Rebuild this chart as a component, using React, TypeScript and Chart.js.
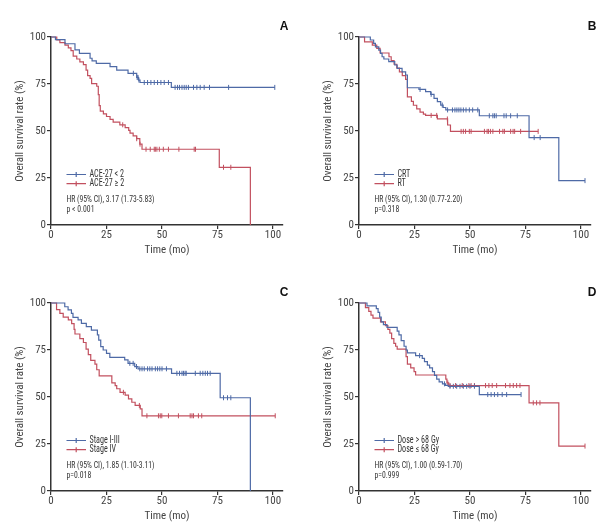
import React, { useEffect, useRef } from "react";
import { Chart, registerables } from "chart.js";

Chart.register(...registerables);

const FONT = '"Roboto Condensed", "Liberation Sans Narrow", "DejaVu Sans Condensed", sans-serif';
const BLUE = "#4e6aa6";
const RED = "#c2505f";
const AXIS = "#333333";
const TEXT = "#444444";

const xTicks = [0, 25, 50, 75, 100];
const yTicks = [0, 25, 50, 75, 100];
const X_MAX = 104.5;

// Panel A
const aBlueT = [0, 2, 6.3, 10.8, 12.8, 17.6, 18.5, 20.4, 26.6, 29.6, 34.7, 38.6, 39.4, 40.1, 54.2];
const aBlueS = [100, 98.6, 96.4, 93.1, 91.3, 88.7, 87.3, 86.0, 84.2, 82.4, 80.7, 78.5, 77.1, 75.8, 73.2];
const aBlueEnd = 100.8;
const aBlueCens = [37.1, 38.8, 39.2, 39.6, 42, 43.5, 45, 46.5, 48, 49.5, 51, 52.9, 55.9, 57, 57.9, 59, 60, 60.9, 61.9, 64.2, 65.7, 67.2, 69, 71.4, 80, 100.8];
const aRedT = [0, 2.6, 4, 6.3, 7.8, 9, 10, 11.6, 13, 14.6, 15.8, 16.5, 17.6, 18.3, 20.6, 21.3, 21.7, 22.2, 23.6, 25, 26.6, 28, 31, 33.4, 35, 35.6, 37, 38.6, 40, 41, 75.8, 89.8];
const aRedS = [100, 98.5, 97, 95.7, 94.2, 92.7, 89.8, 88.3, 86.8, 85.3, 82.4, 79.5, 78, 75.2, 73.8, 69.4, 63.5, 60.6, 59.1, 57.7, 56.2, 54.7, 53.3, 51.8, 50.3, 48.9, 47.4, 45.9, 43, 40.3, 30.7, 0];
const aRedEnd = 89.8;
const aRedCens = [32.3, 38.6, 40.1, 42.8, 44.7, 46.5, 47, 47.7, 48.8, 50.6, 52.9, 57.6, 64.5, 65.1, 77.7, 81];

// Panel B
const bBlueT = [0, 5.1, 6.6, 7.4, 8.9, 9.7, 10.4, 11.2, 13.4, 16.1, 17.2, 19.4, 21, 21.8, 27, 30, 32.3, 33.8, 35.3, 36.8, 37.9, 39.1, 54.2, 76.6, 90];
const bBlueS = [100, 98.4, 96.6, 94.8, 93, 91.3, 89.5, 88.3, 86.9, 85.1, 83.3, 81.5, 79.8, 73.0, 72.1, 70.9, 69.5, 67.4, 65.6, 63.8, 62.5, 61.2, 58.1, 46.5, 23.6];
const bBlueEnd = 101.8;
const bBlueCens = [27.5, 32.5, 37.5, 39.9, 42.1, 43.2, 44.1, 45, 45.9, 47, 48.2, 49.7, 51.2, 53.5, 58.7, 60.3, 61, 61.8, 65.3, 66.3, 68.3, 71.3, 78.9, 81.6, 101.8];
const bRedT = [0, 2.5, 6, 8, 9.5, 13.5, 14.5, 15.8, 17, 18.2, 19.5, 21, 21.8, 23.6, 24.5, 26, 27.5, 29, 30, 35.3, 39.9, 41.2];
const bRedS = [100, 97.4, 95.7, 94, 91.5, 89.5, 87.5, 85.5, 83.5, 81.5, 79.5, 77.5, 68.1, 65.8, 63.7, 61.8, 60, 59, 58.3, 56.4, 53.2, 49.8];
const bRedEnd = 80.7;
const bRedCens = [32.5, 35, 39.8, 46, 47, 48, 49.7, 50.5, 56.5, 57.7, 58.3, 59.2, 60.3, 63.3, 64.8, 65.5, 68.3, 69.4, 70.1, 72.8, 80.7];

// Panel C
const cBlueT = [0, 6.2, 7.7, 9.2, 9.9, 12.2, 13.7, 15.9, 18.2, 20.9, 21.5, 22.4, 23.5, 25, 26.5, 33.2, 34.7, 37.7, 39.2, 54.3, 76.2, 89.8];
const cBlueS = [100, 98, 96.3, 94.5, 92.4, 91, 89.2, 87.4, 85.6, 83, 80.3, 76.8, 75, 73.2, 71.1, 69.7, 67.9, 66.2, 65, 62.6, 49.6, 0];
const cBlueEnd = 89.8;
const cBlueCens = [35.5, 37, 38.5, 40, 41, 42, 43.5, 44.5, 45.5, 47, 48, 49, 50, 52, 56.7, 57.9, 59, 59.7, 60.4, 60.9, 65, 67.2, 68.4, 69.5, 70.5, 71.7, 77.7, 79.5, 81];
const cRedT = [0, 2.5, 4, 5.5, 7.8, 9.3, 10.4, 10.8, 13, 14.6, 15.8, 16.8, 17.9, 19.8, 20.6, 21.7, 27.4, 28.9, 29.6, 31.1, 33.4, 34.9, 36.4, 37.9, 40.2, 41];
const cRedS = [100, 96.5, 94.5, 92.5, 91, 89, 86, 83.5, 81, 79, 75.5, 72.5, 69.5, 67.5, 64.5, 61.2, 57.5, 56, 54.4, 52.5, 51, 49, 47.2, 45.5, 43.7, 40];
const cRedEnd = 101;
const cRedCens = [32.6, 39.8, 43.2, 48.4, 49.2, 49.9, 52.9, 57.4, 62.7, 63.5, 64.2, 66.4, 67.9, 101];

// Panel D
const dBlueT = [0, 3.6, 7.8, 8.6, 9.3, 10, 11, 12.6, 17.2, 18, 19, 20.3, 21.2, 21.8, 25.5, 28.5, 29.5, 30.8, 31.8, 33.1, 34, 35, 36.1, 37.6, 39, 40.2, 54.2];
const dBlueS = [100, 98.5, 97, 95, 92.5, 90, 88.5, 87, 85, 83, 80, 77, 75, 73.5, 72, 70.5, 68.8, 67, 65.5, 63.5, 61.5, 59.5, 58, 57, 56.2, 55.7, 51.3];
const dBlueEnd = 73;
const dBlueCens = [27.3, 38.5, 41, 42.5, 44, 45.5, 47, 48.5, 50, 52, 58, 59.5, 61, 62.5, 64.5, 66.5, 73];
const dRedT = [0, 2.9, 4.4, 5.4, 6.3, 9.7, 11.9, 13, 13.9, 14.7, 15.7, 16.5, 17.2, 21.2, 21.8, 23.3, 24.8, 25.5, 39.1, 39.6, 40.4, 76.6, 90];
const dRedS = [100, 97.5, 95.5, 93.5, 92, 90, 88, 86, 84, 81, 78.5, 77, 75.5, 71.5, 67.5, 65.5, 63.5, 61.7, 59.5, 57.5, 56.1, 46.9, 23.9];
const dRedEnd = 101.8;
const dRedCens = [40, 41, 43.5, 46.5, 49.5, 50.5, 52, 57, 58.5, 60, 62, 66, 68, 69.5, 71, 72.5, 78.5, 80, 81.5, 101.8];

const panelLetters = ["A", "B", "C", "D"];
const blueLabels = ["ACE-27 < 2", "CRT", "Stage I-III", "Dose > 68 Gy"];
const redLabels = ["ACE-27 \u2265 2", "RT", "Stage IV", "Dose \u2264 68 Gy"];
const hrTexts = [
  "HR (95% CI), 3.17 (1.73-5.83)",
  "HR (95% CI), 1.30 (0.77-2.20)",
  "HR (95% CI), 1.85 (1.10-3.11)",
  "HR (95% CI), 1.00 (0.59-1.70)",
];
const pTexts = ["p < 0.001", "p=0.318", "p=0.018", "p=0.999"];

type Curve = { t: number[]; s: number[]; end: number; cens: number[] };
const blueCurves: Curve[] = [
  { t: aBlueT, s: aBlueS, end: aBlueEnd, cens: aBlueCens },
  { t: bBlueT, s: bBlueS, end: bBlueEnd, cens: bBlueCens },
  { t: cBlueT, s: cBlueS, end: cBlueEnd, cens: cBlueCens },
  { t: dBlueT, s: dBlueS, end: dBlueEnd, cens: dBlueCens },
];
const redCurves: Curve[] = [
  { t: aRedT, s: aRedS, end: aRedEnd, cens: aRedCens },
  { t: bRedT, s: bRedS, end: bRedEnd, cens: bRedCens },
  { t: cRedT, s: cRedS, end: cRedEnd, cens: cRedCens },
  { t: dRedT, s: dRedS, end: dRedEnd, cens: dRedCens },
];

const CW = 307;
const CH = 266;
const positions = [
  [0, 0],
  [308, 0],
  [0, 266],
  [308, 266],
];

function stepPoints(c: Curve) {
  const pts = c.t.map((t, i) => ({ x: t, y: c.s[i] }));
  const last = c.t[c.t.length - 1];
  if (c.end > last) pts.push({ x: c.end, y: c.s[c.s.length - 1] });
  return pts;
}

function survAt(c: Curve, t: number) {
  let v = c.s[0];
  for (let i = 0; i < c.t.length; i++) {
    if (c.t[i] <= t) v = c.s[i];
  }
  return v;
}

function censPoints(c: Curve) {
  return c.cens.map((t) => ({ x: t, y: survAt(c, t) }));
}

// Draw text compressed horizontally so its width matches the condensed original face.
function drawCondensed(ctx: CanvasRenderingContext2D, text: string, x: number, y: number, sx: number) {
  ctx.save();
  ctx.translate(x, y);
  ctx.scale(sx, 1);
  ctx.fillText(text, 0, 0);
  ctx.restore();
}

const extrasPlugin = {
  id: "kmExtras",
  afterDraw(chart: any, _args: any, opts: any) {
    const { ctx, chartArea } = chart;
    const left = chartArea.left;
    const bottom = chartArea.bottom;
    ctx.save();
    ctx.font = `9.5px ${FONT}`;
    const ref = ctx.measureText("HR (95% CI), 3.17 (1.73-5.83)").width;
    const sx = Math.min(1, 88 / ref);
    const items = [
      { color: BLUE, label: opts.blueLabel, dy: -50.5 },
      { color: RED, label: opts.redLabel, dy: -41.3 },
    ];
    for (const it of items) {
      const y = bottom + it.dy;
      ctx.strokeStyle = it.color;
      ctx.lineWidth = 1.2;
      ctx.beginPath();
      ctx.moveTo(left + 15.5, y);
      ctx.lineTo(left + 35, y);
      ctx.moveTo(left + 25.2, y - 2.5);
      ctx.lineTo(left + 25.2, y + 2.5);
      ctx.stroke();
      ctx.fillStyle = "#333";
      ctx.font = `10px ${FONT}`;
      ctx.textBaseline = "middle";
      ctx.textAlign = "left";
      drawCondensed(ctx, it.label, left + 38.5, y, sx);
    }
    ctx.fillStyle = "#333";
    ctx.font = `9.5px ${FONT}`;
    ctx.textBaseline = "middle";
    ctx.textAlign = "left";
    drawCondensed(ctx, opts.hr, left + 15.5, bottom - 25.4, sx);
    drawCondensed(ctx, opts.p, left + 15.5, bottom - 15.6, sx);
    ctx.font = `bold 12px "Liberation Sans", Arial, sans-serif`;
    ctx.fillStyle = "#111";
    ctx.textAlign = "center";
    ctx.fillText(opts.letter, chartArea.right + 1, chartArea.top - 10);
    ctx.restore();
  },
};

function Panel({ idx }: { idx: number }) {
  const ref = useRef<HTMLCanvasElement | null>(null);
  useEffect(() => {
    if (!ref.current) return;
    const blue = blueCurves[idx];
    const red = redCurves[idx];
    const tickFont = { family: FONT, size: 11 };
    const titleFont = { family: FONT, size: 11 };
    const chart = new Chart(ref.current, {
      type: "line",
      data: {
        datasets: [
          {
            data: stepPoints(blue),
            borderColor: BLUE,
            borderWidth: 1.2,
            stepped: "before",
            pointRadius: 0,
            fill: false,
            clip: false,
          },
          {
            data: stepPoints(red),
            borderColor: RED,
            borderWidth: 1.2,
            stepped: "before",
            pointRadius: 0,
            fill: false,
            clip: false,
          },
          {
            data: censPoints(blue),
            showLine: false,
            pointStyle: "line",
            pointRotation: 90,
            pointRadius: 2.5,
            pointBorderColor: BLUE,
            pointBorderWidth: 1,
            borderColor: BLUE,
            clip: false,
          },
          {
            data: censPoints(red),
            showLine: false,
            pointStyle: "line",
            pointRotation: 90,
            pointRadius: 2.5,
            pointBorderColor: RED,
            pointBorderWidth: 1,
            borderColor: RED,
            clip: false,
          },
        ] as any,
      },
      options: {
        animation: false,
        responsive: false,
        maintainAspectRatio: false,
        events: [],
        layout: { padding: { top: 37, right: 24, left: 0, bottom: 0 } },
        plugins: {
          legend: { display: false },
          tooltip: { enabled: false },
          kmExtras: {
            blueLabel: blueLabels[idx],
            redLabel: redLabels[idx],
            hr: hrTexts[idx],
            p: pTexts[idx],
            letter: panelLetters[idx],
          },
        } as any,
        scales: {
          x: {
            type: "linear",
            min: 0,
            max: X_MAX,
            afterBuildTicks: (s: any) => {
              s.ticks = xTicks.map((v) => ({ value: v }));
            },
            afterFit: (s: any) => {
              s.height = 41;
            },
            ticks: { color: TEXT, font: tickFont, padding: 0, maxRotation: 0 },
            grid: { drawOnChartArea: false, drawTicks: true, tickLength: 4, color: AXIS, lineWidth: 1.2 },
            border: { display: true, color: AXIS, width: 1.5 },
            title: { display: true, text: "Time (mo)", color: TEXT, font: titleFont, padding: { top: 0, bottom: 9 } },
          },
          y: {
            type: "linear",
            min: 0,
            max: 100,
            afterBuildTicks: (s: any) => {
              s.ticks = yTicks.map((v) => ({ value: v }));
            },
            afterFit: (s: any) => {
              s.width = 51;
            },
            ticks: { color: TEXT, font: tickFont, padding: 1 },
            grid: { drawOnChartArea: false, drawTicks: true, tickLength: 4, color: AXIS, lineWidth: 1.2 },
            border: { display: true, color: AXIS, width: 1.5 },
            title: {
              display: true,
              text: "Overall survival rate (%)",
              color: TEXT,
              font: titleFont,
              padding: { top: 14, bottom: 0 },
            },
          },
        } as any,
      },
      plugins: [extrasPlugin],
    });
    return () => chart.destroy();
  }, [idx]);
  const [l, t] = positions[idx];
  return (
    <canvas
      ref={ref}
      width={CW}
      height={CH}
      style={{ position: "absolute", left: l, top: t, width: CW, height: CH }}
    />
  );
}

export default function App() {
  return (
    <div style={{ position: "fixed", left: 0, top: 0, width: 615, height: 532, background: "#fff" }}>
      {[0, 1, 2, 3].map((i) => (
        <Panel key={i} idx={i} />
      ))}
    </div>
  );
}
